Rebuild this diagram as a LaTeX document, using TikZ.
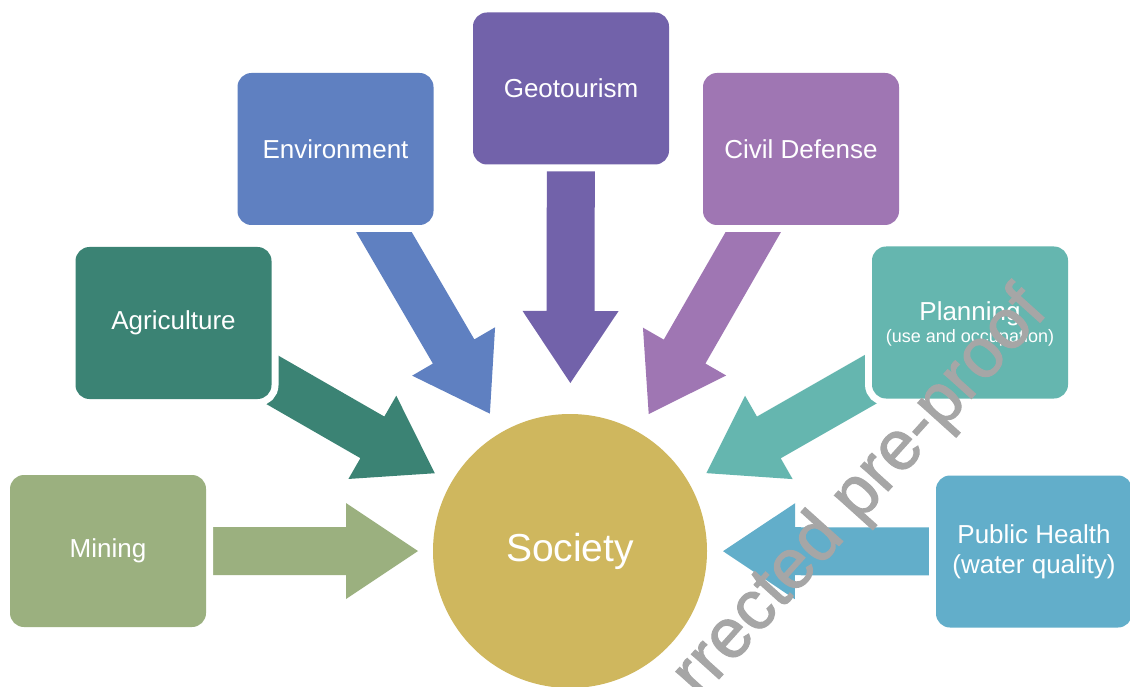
\documentclass[tikz,border=0pt]{standalone}
\usepackage{fontspec}
\setmainfont{Liberation Sans}
\newfontfamily\stampfont[FakeBold=1.5]{Liberation Sans}
\usetikzlibrary{calc}

\definecolor{cMining}{HTML}{9BB07F}
\definecolor{cAgri}{HTML}{3B8374}
\definecolor{cEnv}{HTML}{5F80C1}
\definecolor{cGeo}{HTML}{7262AA}
\definecolor{cCivil}{HTML}{9F76B3}
\definecolor{cPlan}{HTML}{65B6AF}
\definecolor{cHealth}{HTML}{62AECA}
\definecolor{cSociety}{HTML}{CFB75E}
\definecolor{cMark}{HTML}{A6A6A6}

\pgfdeclarelayer{arrowlayer}
\pgfdeclarelayer{paper}
\pgfsetlayers{paper,arrowlayer,main}

\newcommand\labelfont{\fontsize{26}{30}\selectfont}
\newcommand\smallfont{\fontsize{18}{22}\selectfont}

% block arrow from a sector box towards the hub; #3 = distance of the tip from the hub centre
\newcommand\flowarrow[3]{%
  \coordinate (tip) at ($(hub.center)!#3!(#2.center)$);
  \coordinate (neck) at ($(tip)!72pt!(#2.center)$);
  \fill[#1] ($(#2.center)!24pt!90:(tip)$) -- ($(neck)!24pt!90:(tip)$)
    -- ($(neck)!48pt!90:(tip)$) -- (tip) -- ($(neck)!48pt!-90:(tip)$)
    -- ($(neck)!24pt!-90:(tip)$) -- ($(#2.center)!24pt!-90:(tip)$) -- cycle;
}

\tikzset{
  sector/.style={rectangle, rounded corners=14pt, minimum width=196pt,
    minimum height=152pt, inner sep=0pt, fill=#1, text=white, align=center,
    font=\labelfont, preaction={draw=white, line width=14pt}},
  hubstyle/.style={circle, minimum size=274pt, inner sep=0pt, fill=cSociety,
    text=white, font=\fontsize{39}{44}\selectfont},
  sublabel/.style={anchor=base, inner sep=0pt, text=white},
  watermark/.style={anchor=base west, inner sep=0pt, rotate=48, text=cMark,
    font=\stampfont\fontsize{70}{70}\selectfont}
}

\begin{document}
\begin{tikzpicture}[x=1pt, y=-1pt]
\useasboundingbox (0,0) rectangle (1130,687);
\begin{pgfonlayer}{paper}
  \fill[white] (0,0) rectangle (1130,687);
\end{pgfonlayer}

% hub and sector boxes
\node[hubstyle] (hub) at (570,551) {Society};
\node[sector=cMining] (mining) at (108,551) {Mining};
\node[sector=cAgri] (agri) at (173.5,323) {Agriculture};
\node[sector=cEnv] (env) at (335.5,149) {Environment};
\node[sector=cGeo] (geo) at (571,88.5) {Geotourism};
\node[sector=cCivil] (civil) at (801,149) {Civil Defense};
\node[sector=cPlan] (plan) at (970,322.5) {};
\node[sublabel] (plantitle) at (970,320) {\labelfont Planning};
\node[sublabel] (plannote) at (970,342) {\smallfont (use and occupation)};
\node[sector=cHealth] (health) at (1034,551.5)
  {Public Health\\(water quality)};

% arrows pointing to the hub, behind the boxes
\begin{pgfonlayer}{arrowlayer}
  \flowarrow{cMining}{mining}{152pt}
  \flowarrow{cAgri}{agri}{156pt}
  \flowarrow{cEnv}{env}{159pt}
  \flowarrow{cGeo}{geo}{168pt}
  \flowarrow{cCivil}{civil}{158pt}
  \flowarrow{cPlan}{plan}{157pt}
  \flowarrow{cHealth}{health}{153pt}
\end{pgfonlayer}

% diagonal stamp
\node[watermark] (stamp) at (700,700) {rrected pre-proof};
\end{tikzpicture}
\end{document}
